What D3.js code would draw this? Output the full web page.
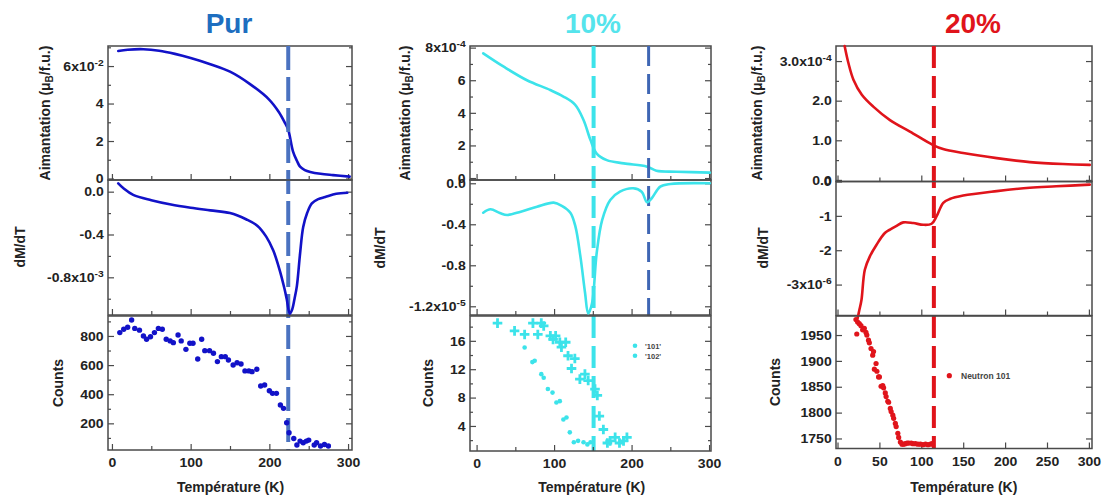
<!DOCTYPE html>
<html><head><meta charset="utf-8">
<script src="https://cdn.jsdelivr.net/npm/d3@7"></script>
<style>
html,body{margin:0;padding:0;background:#fff;}
text{font-family:"Liberation Sans",Arial,sans-serif;font-weight:bold;}
</style></head>
<body><svg id="chart" width="1102" height="497"></svg>
<script>
// ---------- DATA ----------
const titles = ["Pur", "10%", "20%"];
const xTitle = "Température (K)";

// Pur : magnetisation (x10^-2 μB/f.u.)
const purMag = [[8,6.8],[20,6.87],[40,6.9],[60,6.82],[80,6.65],[100,6.43],[125,6.1],[150,5.7],[175,5.05],[200,4.2],[212,3.55],[220,2.95],[224,2.6],[230,1.45],[235,0.95],[239,0.63],[245,0.45],[252,0.35],[265,0.25],[281,0.18],[302,0.1]];
// Pur : dM/dT (x10^-3)
const purDer = [[8,0.078],[15,0.03],[27,-0.03],[50,-0.08],[75,-0.12],[100,-0.15],[125,-0.175],[150,-0.2],[171,-0.26],[185,-0.32],[196,-0.42],[205,-0.55],[213,-0.73],[219,-0.9],[222,-1.0],[226,-1.14],[229,-1.1],[232,-1.0],[235,-0.88],[239,-0.58],[243,-0.33],[248,-0.2],[254,-0.11],[262,-0.07],[271,-0.05],[285,-0.02],[299,-0.01]];
// Pur : neutron counts
const purCounts = [[10,823],[15,846],[20,860],[25,910],[29,852],[35,840],[40,800],[44,777],[49,795],[54,823],[59,852],[64,846],[69,777],[74,766],[78,754],[84,807],[88,766],[94,708],[99,750],[103,750],[109,642],[114,777],[118,699],[124,699],[129,681],[134,624],[139,658],[144,658],[148,635],[154,601],[159,616],[164,607],[169,560],[174,560],[178,555],[184,571],[189,456],[194,463],[200,424],[204,406],[209,406],[214,326],[218,303],[222,204],[225,135],[231,96],[235,51],[239,78],[243,67],[247,78],[250,85],[257,51],[260,67],[265,44],[270,55],[275,44]];

// 10% : magnetisation (x10^-4)
const p10Mag = [[8.6,7.65],[35,6.83],[65,6.0],[95,5.4],[112,5.0],[127,4.5],[138,3.56],[147,2.33],[155,1.5],[168,1.1],[190,0.9],[220,0.7],[232,0.45],[258,0.39],[301,0.33]];
// 10% : dM/dT (x10^-5)
const p10Der = [[8.6,-0.287],[18,-0.254],[30,-0.29],[39.5,-0.309],[57,-0.277],[78,-0.228],[99.5,-0.189],[110,-0.22],[121,-0.287],[127.5,-0.42],[134,-0.716],[140,-1.07],[144,-1.27],[149,-1.17],[155,-0.68],[162,-0.36],[172.5,-0.163],[185,-0.082],[202,-0.049],[213,-0.082],[220,-0.185],[226,-0.146],[237,-0.033],[250,-0.007],[301,0]];
// 10% : neutron counts, reflections '101' and '102'
const p10Counts101 = [[62,15.06],[72,13.0],[75,13.2],[83.5,11.3],[86.6,10.8],[92,9.2],[98,8.7],[103,7.3],[107.4,7.5],[112,4.9],[116,5.2],[120.3,3.1],[125.5,1.7],[131,1.9],[138,1.7],[143,1.4],[147,1.7]];
const p10Counts102 = [[27,18.5],[49,17.4],[62,16.9],[72.7,18.5],[79,16.9],[83.5,18.5],[86.6,18.1],[95.2,16.7],[98.7,16.2],[102,16.7],[107.4,15.8],[109.5,15.1],[115,15.8],[118,13.9],[122.5,12.1],[126.8,13.5],[133.3,10.6],[139.8,11.3],[144,10.4],[152.8,9.2],[155.8,8.3],[158.4,5.4],[163.6,3.5],[168.8,1.6],[172.3,1.9],[178.8,2.4],[184.4,1.6],[189.6,1.9],[194,2.4]];
const p10Legend = ["'101'", "'102'"];

// 20% : magnetisation (x10^-4)
const p20Mag = [[8.5,3.38],[13,2.95],[19,2.53],[29,2.15],[42.7,1.85],[62.6,1.51],[86.4,1.22],[114,0.88],[126,0.78],[150,0.68],[190,0.55],[229.5,0.45],[269,0.4],[301,0.38]];
// 20% : dM/dT (x10^-6)
const p20Der = [[24,-3.98],[26,-3.75],[28.6,-3.45],[32.6,-2.57],[38.6,-2.18],[46.6,-1.84],[56.5,-1.5],[62.6,-1.4],[70.5,-1.29],[78.5,-1.19],[90.4,-1.21],[102.3,-1.26],[112.3,-1.23],[118.3,-1.01],[126.2,-0.62],[134,-0.51],[150,-0.41],[190,-0.28],[229.5,-0.18],[261,-0.14],[301,-0.09]];
// 20% : neutron counts (101)
const p20Counts = [[22,1980],[23,1952],[24,1975],[26,1972],[28,1968],[30,1960],[32,1963],[34,1955],[35,1950],[37,1940],[38,1935],[40,1924],[42,1911],[43,1918],[44,1884],[46,1895],[47,1880],[49,1869],[50,1869],[52,1851],[54,1852],[55,1848],[57,1838],[58,1831],[60,1822],[61,1820],[63,1808],[64,1802],[66,1795],[67,1789],[69,1779],[70,1773],[72,1760],[73,1752],[75,1743],[77,1739],[79,1739],[81,1740],[83,1741],[85,1741],[88,1741],[90,1740],[93,1740],[96,1739],[99,1739],[102,1738],[105,1739],[108,1738],[111,1739],[113,1740]];
const p20Legend = "Neutron 101";

// transition temperatures (dashed markers)
const tcPur = 224, tc10 = 151, tc10b = 222, tc20 = 115;

// tick labels
const purMagTicks = [[0,"0"],[2,"2"],[4,"4"],[6,"6x10^-2"]];
const purDerTicks = [[0,"0.0"],[-0.4,"-0.4"],[-0.8,"-0.8x10^-3"]];
const purCntTicks = [[200,"200"],[400,"400"],[600,"600"],[800,"800"]];
const p10MagTicks = [[0,"0"],[2,"2"],[4,"4"],[6,"6"],[8,"8x10^-4"]];
const p10DerTicks = [[0,"0.0"],[-0.4,"-0.4"],[-0.8,"-0.8"],[-1.2,"-1.2x10^-5"]];
const p10CntTicks = [[4,"4"],[8,"8"],[12,"12"],[16,"16"]];
const p20MagTicks = [[0,"0.0"],[1,"1.0"],[2,"2.0"],[3,"3.0x10^-4"]];
const p20DerTicks = [[0,"0"],[-1,"-1"],[-2,"-2"],[-3,"-3x10^-6"]];
const p20CntTicks = [[1750,"1750"],[1800,"1800"],[1850,"1850"],[1900,"1900"],[1950,"1950"]];

// ---------- STYLE ----------
const C = {
  purTitle:"#1D6EC0", pur:"#1212C8", purDash:"#4A72C0",
  c10Title:"#55E4EC", c10:"#3CE3EA", c10Dash:"#3F66B4",
  c20:"#E0141B", frame:"#4a4a4a", tick:"#222"
};

const svg = d3.select("#chart");
svg.append("rect").attr("width",1102).attr("height",497).attr("fill","#fff");

function setLabel(t, str){
  const parts = str.split("^");
  t.text(parts[0]);
  if(parts[1]) t.append("tspan").attr("dy","-0.55em").attr("font-size","9.5px").text(parts[1]);
}

function panel(o){
  const x = d3.scaleLinear().domain(o.xd).range([o.x0,o.x1]);
  const y = d3.scaleLinear().domain(o.yd).range([o.y1,o.y0]);
  const g = svg.append("g");
  const ga = g.append("g").attr("transform",`translate(${o.x0},0)`)
    .call(d3.axisLeft(y).tickValues(o.yt.map(d=>d[0])).tickSize(-6).tickPadding(4).tickFormat(()=>""));
  ga.selectAll(".tick text").each(function(d,i){ setLabel(d3.select(this), o.yt[i][1]); });
  ga.selectAll(".tick text").attr("font-size","13px").attr("fill",C.tick).attr("font-family",null).attr("transform","scale(1.08,1)");
  if(o.ym){
    g.append("g").attr("transform",`translate(${o.x0},0)`).call(d3.axisLeft(y).tickValues(o.ym).tickSize(-3).tickFormat(""));
    g.append("g").attr("transform",`translate(${o.x1},0)`).call(d3.axisRight(y).tickValues(o.ym).tickSize(-3).tickFormat(""));
  }
  g.append("g").attr("transform",`translate(${o.x1},0)`).call(d3.axisRight(y).tickValues(o.yt.map(d=>d[0])).tickSize(-6).tickFormat(""));
  const gb = g.append("g").attr("transform",`translate(0,${o.y1})`)
    .call(d3.axisBottom(x).tickValues(o.xt).tickSize(-6).tickPadding(8).tickFormat(o.xlab? d3.format("d") : ""));
  gb.selectAll("text").attr("font-size","13px").attr("fill",C.tick).attr("font-family",null).attr("transform","scale(1.08,1)");
  if(o.xm) g.append("g").attr("transform",`translate(0,${o.y1})`).call(d3.axisBottom(x).tickValues(o.xm).tickSize(-4).tickFormat(""));
  g.selectAll(".domain").remove();
  g.selectAll(".tick line").attr("stroke",C.frame).attr("stroke-width",1.2);
  g.append("rect").attr("x",o.x0).attr("y",o.y0).attr("width",o.x1-o.x0).attr("height",o.y1-o.y0)
    .attr("fill","none").attr("stroke",C.frame).attr("stroke-width",1.5);
  return {x,y,g};
}

function line(p, data, color, w){
  p.g.append("path").datum(data)
    .attr("d", d3.line().x(d=>p.x(d[0])).y(d=>p.y(d[1])).curve(d3.curveCatmullRom.alpha(0.5)))
    .attr("fill","none").attr("stroke",color).attr("stroke-width",w||2.6).attr("stroke-linejoin","round").attr("stroke-linecap","round");
}
function dots(p, data, color, r){
  p.g.selectAll(null).data(data).enter().append("circle")
    .attr("cx",d=>p.x(d[0])).attr("cy",d=>p.y(d[1])).attr("r",r||2.6).attr("fill",color);
}
function plus(p, data, color){
  p.g.selectAll(null).data(data).enter().append("path")
    .attr("d",d=>{const cx=p.x(d[0]),cy=p.y(d[1]),s=4.8;return `M${cx-s},${cy}H${cx+s}M${cx},${cy-s}V${cy+s}`;})
    .attr("stroke",color).attr("stroke-width",2.8).attr("fill","none");
}
function vdash(p, T, ya, yb, color, w, dash){
  p.g.append("line").attr("x1",p.x(T)).attr("x2",p.x(T)).attr("y1",ya).attr("y2",yb)
    .attr("stroke",color).attr("stroke-width",w).attr("stroke-dasharray",dash);
}
function vtitle(cx, cy, parts){
  const t = svg.append("text").attr("transform",`translate(${cx+5},${cy}) rotate(-90)`)
    .attr("text-anchor","middle").attr("font-size","14px").attr("fill",C.tick);
  parts.forEach(p=>{
    const s = t.append("tspan").text(p.t);
    if(p.sub){ s.attr("font-size","10px").attr("dy","3"); }
    if(p.after){ s.attr("dy","-3"); }
  });
}
const magTitle = [{t:"Aimantation (μ"},{t:"B",sub:true},{t:"/f.u.)",after:true}];

// ---------- COLUMN 1 : Pur ----------
const xd1 = [-5,305];
const a1 = panel({x0:108,x1:352,y0:46,y1:180,xd:xd1,yd:[-0.08,7.07],yt:purMagTicks,ym:[1,3,5,7],xt:[0,100,200,300],xm:[50,150,250]});
const b1 = panel({x0:108,x1:352,y0:180,y1:315,xd:xd1,yd:[-1.152,0.109],yt:purDerTicks,ym:[-0.2,-0.6,-1.0],xt:[0,100,200,300],xm:[50,150,250]});
const c1 = panel({x0:108,x1:352,y0:316,y1:450,xd:xd1,yd:[17,937],yt:purCntTicks,ym:[100,300,500,700,900],xt:[0,100,200,300],xm:[50,150,250],xlab:true});
line(a1,purMag,C.pur); line(b1,purDer,C.pur); dots(c1,purCounts,C.pur,2.7);
vdash(a1,tcPur,46,450,C.purDash,4,"24,7");

// ---------- COLUMN 2 : 10% ----------
const xd2 = [-8.5,302.5];
const a2 = panel({x0:470,x1:711,y0:46,y1:180,xd:xd2,yd:[-0.12,8.1],yt:p10MagTicks,ym:[1,3,5,7],xt:[0,100,200,300],xm:[50,150,250]});
const b2 = panel({x0:470,x1:711,y0:180,y1:315,xd:xd2,yd:[-1.285,0.032],yt:p10DerTicks,ym:[-0.2,-0.6,-1.0],xt:[0,100,200,300],xm:[50,150,250]});
const c2 = panel({x0:470,x1:711,y0:316,y1:451,xd:xd2,yd:[0.47,19.5],yt:p10CntTicks,ym:[2,6,10,14,18],xt:[0,100,200,300],xm:[50,150,250],xlab:true});
line(a2,p10Mag,C.c10); line(b2,p10Der,C.c10);
dots(c2,p10Counts101,C.c10,2.3); plus(c2,p10Counts102,C.c10);
vdash(a2,tc10,46,451,C.c10,4,"22,8");
vdash(a2,tc10b,46,316,C.c10Dash,3,"20,8");
p10Legend.forEach((s,i)=>{
  svg.append("circle").attr("cx",635).attr("cy",345.7+i*10).attr("r",2.3).attr("fill",C.c10);
  svg.append("text").attr("x",645).attr("y",348.5+i*10).attr("font-size","7.5px").attr("font-weight","normal").attr("fill","#444").text(s);
});

// ---------- COLUMN 3 : 20% ----------
const xd3 = [-1.8,303.7];
const a3 = panel({x0:836,x1:1092,y0:46,y1:181.5,xd:xd3,yd:[-0.04,3.38],yt:p20MagTicks,ym:[0.5,1.5,2.5],xt:[0,100,200,300],xm:[50,150,250]});
const b3 = panel({x0:836,x1:1092,y0:181.5,y1:315.5,xd:xd3,yd:[-3.9,0.0],yt:p20DerTicks,ym:null,xt:[0,100,200,300],xm:[50,150,250]});
const c3 = panel({x0:836,x1:1092,y0:316,y1:448.5,xd:xd3,yd:[1730.6,1986.8],yt:p20CntTicks,ym:null,xt:[0,50,100,150,200,250,300],xlab:true});
line(a3,p20Mag,C.c20); line(b3,p20Der,C.c20); dots(c3,p20Counts,C.c20,2.6);
vdash(a3,tc20,46,448.5,C.c20,4,"22,8");
svg.append("circle").attr("cx",949.3).attr("cy",375.7).attr("r",2.6).attr("fill",C.c20);
svg.append("text").attr("x",961).attr("y",378.5).attr("font-size","8.5px").attr("font-weight","normal").attr("fill","#444").text(p20Legend);

// ---------- TITLES ----------
[[titles[0],229,C.purTitle],[titles[1],593,C.c10Title],[titles[2],973,C.c20]].forEach(([s,x,c])=>{
  svg.append("text").attr("x",x).attr("y",33).attr("text-anchor","middle").attr("font-size","28px").attr("fill",c).text(s);
});
[[230.5],[591.7],[963.8]].forEach(([x])=>{
  svg.append("text").attr("x",x).attr("y",492).attr("text-anchor","middle").attr("font-size","14px").attr("fill",C.tick).text(xTitle);
});
vtitle(45,113,magTitle); vtitle(20,247,[{t:"dM/dT"}]); vtitle(58,383,[{t:"Counts"}]);
vtitle(405,113,magTitle); vtitle(380,248,[{t:"dM/dT"}]); vtitle(428,383,[{t:"Counts"}]);
vtitle(757,113,magTitle); vtitle(763,248,[{t:"dM/dT"}]); vtitle(775,382,[{t:"Counts"}]);
</script></body></html>
